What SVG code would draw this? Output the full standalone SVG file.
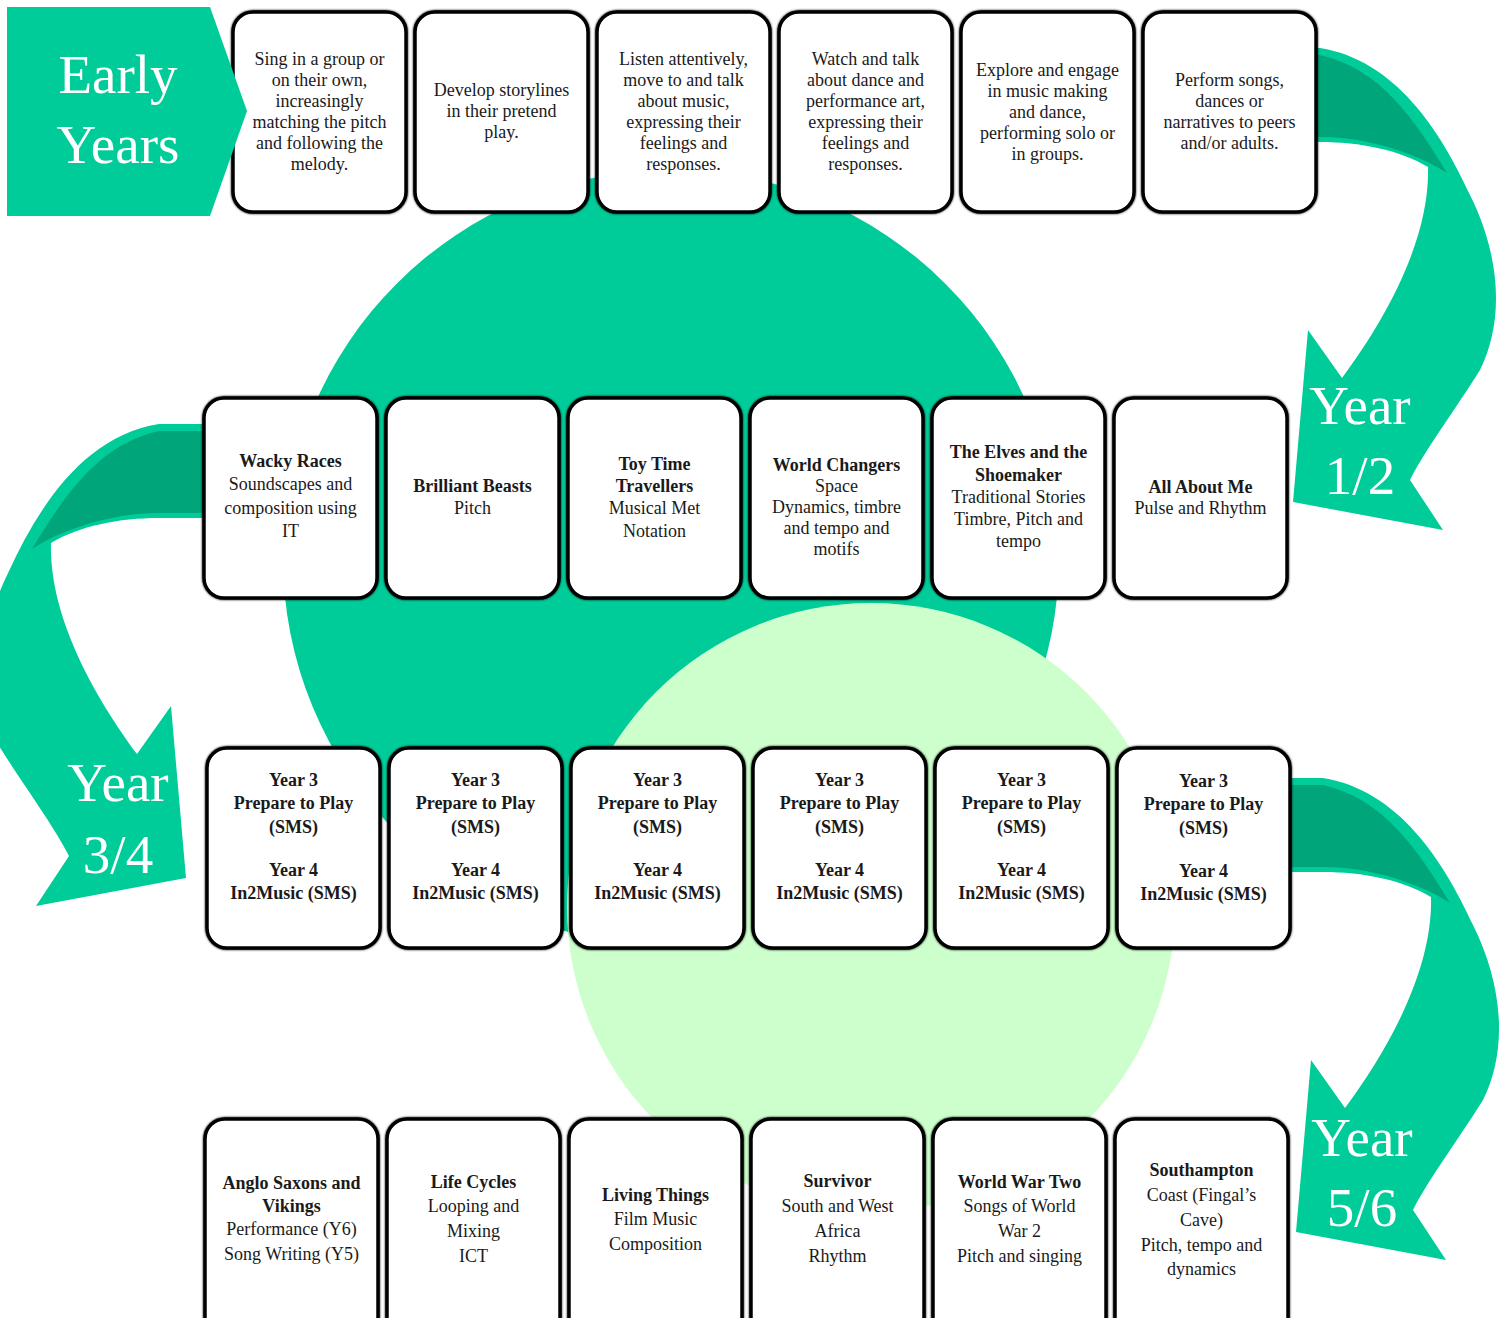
<svg xmlns="http://www.w3.org/2000/svg" xmlns:xlink="http://www.w3.org/1999/xlink" width="1499" height="1318" viewBox="0 0 1499 1318">
<defs>
<style>
.box{fill:#fff;stroke:#000;stroke-width:3.5}
.t{font-family:'Liberation Serif','DejaVu Serif',serif;font-size:18px;fill:#1a1a1a;text-anchor:middle}
.b{font-weight:bold}
.big{font-family:'Liberation Serif','DejaVu Serif',serif;font-size:55px;fill:#fff;text-anchor:middle}
.teal{fill:#00CC99}
.dark{fill:#00A67A}
</style>
<filter id="soft" x="-5%" y="-5%" width="110%" height="110%">
<feGaussianBlur in="SourceGraphic" stdDeviation="1.3" result="b"/>
<feMerge><feMergeNode in="b"/><feMergeNode in="SourceGraphic"/></feMerge>
</filter>
<g id="arrowShape">
<path class="teal" d="M1240,48 L1320,48 C1395,60 1440,130 1470,195 C1500,255 1505,320 1480,370 C1455,410 1425,450 1410,480 L1443,530 L1293,502 L1308,330 L1342,378 C1385,320 1430,240 1428,167 C1400,150 1360,142 1320,142 L1240,142 Z"/>
<path class="dark" d="M1240,55 L1320,55 C1380,68 1415,120 1447,173 C1420,155 1370,137 1320,137 L1240,137 Z"/>
</g>
</defs>

<g id="background">
<circle cx="671" cy="558" r="388" fill="#00CC99"/>
<circle cx="871" cy="907" r="304" fill="#CCFFCC"/>
</g>

<g id="connectors">
<g id="arrow-y12"><use xlink:href="#arrowShape"/></g>
<g id="arrow-y34"><use xlink:href="#arrowShape" transform="matrix(-1 0 0 1 1479 376)"/></g>
<g id="arrow-y56"><use xlink:href="#arrowShape" transform="translate(3 730)"/></g>
</g>

<g id="labels" font-family="Liberation Serif, DejaVu Serif, serif">
<text class="big" x="1360" y="424">Year</text>
<text class="big" x="1360" y="494">1/2</text>
<text class="big" x="118" y="801">Year</text>
<text class="big" x="118" y="873">3/4</text>
<text class="big" x="1362" y="1156">Year</text>
<text class="big" x="1362" y="1226">5/6</text>
</g>

<g id="nodes" font-family="Liberation Serif, DejaVu Serif, serif">
<!-- Row 1 -->
<g id="ey1"><rect class="box" filter="url(#soft)" x="233" y="12" width="173" height="200" rx="20"/>
<text class="t"><tspan x="319.5" y="65">Sing in a group or</tspan><tspan x="319.5" y="86">on their own,</tspan><tspan x="319.5" y="107">increasingly</tspan><tspan x="319.5" y="128">matching the pitch</tspan><tspan x="319.5" y="149">and following the</tspan><tspan x="319.5" y="170">melody.</tspan></text></g>
<g id="ey2"><rect class="box" filter="url(#soft)" x="415" y="12" width="173" height="200" rx="20"/>
<text class="t"><tspan x="501.5" y="96">Develop storylines</tspan><tspan x="501.5" y="117">in their pretend</tspan><tspan x="501.5" y="138">play.</tspan></text></g>
<g id="ey3"><rect class="box" filter="url(#soft)" x="597" y="12" width="173" height="200" rx="20"/>
<text class="t"><tspan x="683.5" y="65">Listen attentively,</tspan><tspan x="683.5" y="86">move to and talk</tspan><tspan x="683.5" y="107">about music,</tspan><tspan x="683.5" y="128">expressing their</tspan><tspan x="683.5" y="149">feelings and</tspan><tspan x="683.5" y="170">responses.</tspan></text></g>
<g id="ey4"><rect class="box" filter="url(#soft)" x="779" y="12" width="173" height="200" rx="20"/>
<text class="t"><tspan x="865.5" y="65">Watch and talk</tspan><tspan x="865.5" y="86">about dance and</tspan><tspan x="865.5" y="107">performance art,</tspan><tspan x="865.5" y="128">expressing their</tspan><tspan x="865.5" y="149">feelings and</tspan><tspan x="865.5" y="170">responses.</tspan></text></g>
<g id="ey5"><rect class="box" filter="url(#soft)" x="961" y="12" width="173" height="200" rx="20"/>
<text class="t"><tspan x="1047.5" y="76">Explore and engage</tspan><tspan x="1047.5" y="97">in music making</tspan><tspan x="1047.5" y="118">and dance,</tspan><tspan x="1047.5" y="139">performing solo or</tspan><tspan x="1047.5" y="160">in groups.</tspan></text></g>
<g id="ey6"><rect class="box" filter="url(#soft)" x="1143" y="12" width="173" height="200" rx="20"/>
<text class="t"><tspan x="1229.5" y="86">Perform songs,</tspan><tspan x="1229.5" y="107">dances or</tspan><tspan x="1229.5" y="128">narratives to peers</tspan><tspan x="1229.5" y="149">and/or adults.</tspan></text></g>

<!-- Row 2 -->
<g id="y12a"><rect class="box" filter="url(#soft)" x="204" y="398" width="173" height="200" rx="20"/>
<text class="t"><tspan class="b" x="290.5" y="467">Wacky Races</tspan><tspan x="290.5" y="490">Soundscapes and</tspan><tspan x="290.5" y="514">composition using</tspan><tspan x="290.5" y="537">IT</tspan></text></g>
<g id="y12b"><rect class="box" filter="url(#soft)" x="386" y="398" width="173" height="200" rx="20"/>
<text class="t"><tspan class="b" x="472.5" y="492">Brilliant Beasts</tspan><tspan x="472.5" y="514">Pitch</tspan></text></g>
<g id="y12c"><rect class="box" filter="url(#soft)" x="568" y="398" width="173" height="200" rx="20"/>
<text class="t"><tspan class="b" x="654.5" y="470">Toy Time</tspan><tspan class="b" x="654.5" y="492">Travellers</tspan><tspan x="654.5" y="514">Musical Met</tspan><tspan x="654.5" y="537">Notation</tspan></text></g>
<g id="y12d"><rect class="box" filter="url(#soft)" x="750" y="398" width="173" height="200" rx="20"/>
<text class="t"><tspan class="b" x="836.5" y="471">World Changers</tspan><tspan x="836.5" y="492">Space</tspan><tspan x="836.5" y="513">Dynamics, timbre</tspan><tspan x="836.5" y="534">and tempo and</tspan><tspan x="836.5" y="555">motifs</tspan></text></g>
<g id="y12e"><rect class="box" filter="url(#soft)" x="932" y="398" width="173" height="200" rx="20"/>
<text class="t"><tspan class="b" x="1018.5" y="458">The Elves and the</tspan><tspan class="b" x="1018.5" y="481">Shoemaker</tspan><tspan x="1018.5" y="503">Traditional Stories</tspan><tspan x="1018.5" y="525">Timbre, Pitch and</tspan><tspan x="1018.5" y="547">tempo</tspan></text></g>
<g id="y12f"><rect class="box" filter="url(#soft)" x="1114" y="398" width="173" height="200" rx="20"/>
<text class="t"><tspan class="b" x="1200.5" y="493">All About Me</tspan><tspan x="1200.5" y="514">Pulse and Rhythm</tspan></text></g>

<!-- Row 3 -->
<g id="y34a"><rect class="box" filter="url(#soft)" x="207" y="748" width="173" height="200" rx="20"/>
<text class="t b"><tspan x="293.5" y="786">Year 3</tspan><tspan x="293.5" y="809">Prepare to Play</tspan><tspan x="293.5" y="833">(SMS)</tspan><tspan x="293.5" y="876">Year 4</tspan><tspan x="293.5" y="899">In2Music (SMS)</tspan></text></g>
<g id="y34b"><rect class="box" filter="url(#soft)" x="389" y="748" width="173" height="200" rx="20"/>
<text class="t b"><tspan x="475.5" y="786">Year 3</tspan><tspan x="475.5" y="809">Prepare to Play</tspan><tspan x="475.5" y="833">(SMS)</tspan><tspan x="475.5" y="876">Year 4</tspan><tspan x="475.5" y="899">In2Music (SMS)</tspan></text></g>
<g id="y34c"><rect class="box" filter="url(#soft)" x="571" y="748" width="173" height="200" rx="20"/>
<text class="t b"><tspan x="657.5" y="786">Year 3</tspan><tspan x="657.5" y="809">Prepare to Play</tspan><tspan x="657.5" y="833">(SMS)</tspan><tspan x="657.5" y="876">Year 4</tspan><tspan x="657.5" y="899">In2Music (SMS)</tspan></text></g>
<g id="y34d"><rect class="box" filter="url(#soft)" x="753" y="748" width="173" height="200" rx="20"/>
<text class="t b"><tspan x="839.5" y="786">Year 3</tspan><tspan x="839.5" y="809">Prepare to Play</tspan><tspan x="839.5" y="833">(SMS)</tspan><tspan x="839.5" y="876">Year 4</tspan><tspan x="839.5" y="899">In2Music (SMS)</tspan></text></g>
<g id="y34e"><rect class="box" filter="url(#soft)" x="935" y="748" width="173" height="200" rx="20"/>
<text class="t b"><tspan x="1021.5" y="786">Year 3</tspan><tspan x="1021.5" y="809">Prepare to Play</tspan><tspan x="1021.5" y="833">(SMS)</tspan><tspan x="1021.5" y="876">Year 4</tspan><tspan x="1021.5" y="899">In2Music (SMS)</tspan></text></g>
<g id="y34f"><rect class="box" filter="url(#soft)" x="1117" y="748" width="173" height="200" rx="20"/>
<text class="t b"><tspan x="1203.5" y="787">Year 3</tspan><tspan x="1203.5" y="810">Prepare to Play</tspan><tspan x="1203.5" y="834">(SMS)</tspan><tspan x="1203.5" y="877">Year 4</tspan><tspan x="1203.5" y="900">In2Music (SMS)</tspan></text></g>

<!-- Row 4 -->
<g id="y56a"><rect class="box" filter="url(#soft)" x="205" y="1119" width="173" height="230" rx="20"/>
<text class="t"><tspan class="b" x="291.5" y="1189">Anglo Saxons and</tspan><tspan class="b" x="291.5" y="1212">Vikings</tspan><tspan x="291.5" y="1235">Performance (Y6)</tspan><tspan x="291.5" y="1260">Song Writing (Y5)</tspan></text></g>
<g id="y56b"><rect class="box" filter="url(#soft)" x="387" y="1119" width="173" height="230" rx="20"/>
<text class="t"><tspan class="b" x="473.5" y="1188">Life Cycles</tspan><tspan x="473.5" y="1212">Looping and</tspan><tspan x="473.5" y="1237">Mixing</tspan><tspan x="473.5" y="1262">ICT</tspan></text></g>
<g id="y56c"><rect class="box" filter="url(#soft)" x="569" y="1119" width="173" height="230" rx="20"/>
<text class="t"><tspan class="b" x="655.5" y="1201">Living Things</tspan><tspan x="655.5" y="1225">Film Music</tspan><tspan x="655.5" y="1250">Composition</tspan></text></g>
<g id="y56d"><rect class="box" filter="url(#soft)" x="751" y="1119" width="173" height="230" rx="20"/>
<text class="t"><tspan class="b" x="837.5" y="1187">Survivor</tspan><tspan x="837.5" y="1212">South and West</tspan><tspan x="837.5" y="1237">Africa</tspan><tspan x="837.5" y="1262">Rhythm</tspan></text></g>
<g id="y56e"><rect class="box" filter="url(#soft)" x="933" y="1119" width="173" height="230" rx="20"/>
<text class="t"><tspan class="b" x="1019.5" y="1188">World War Two</tspan><tspan x="1019.5" y="1212">Songs of World</tspan><tspan x="1019.5" y="1237">War 2</tspan><tspan x="1019.5" y="1262">Pitch and singing</tspan></text></g>
<g id="y56f"><rect class="box" filter="url(#soft)" x="1115" y="1119" width="173" height="230" rx="20"/>
<text class="t"><tspan class="b" x="1201.5" y="1176">Southampton</tspan><tspan x="1201.5" y="1201">Coast (Fingal’s</tspan><tspan x="1201.5" y="1226">Cave)</tspan><tspan x="1201.5" y="1251">Pitch, tempo and</tspan><tspan x="1201.5" y="1275">dynamics</tspan></text></g>
</g>

<g id="early-years">
<polygon class="teal" points="7,7 210,7 247,111 210,216 7,216"/>
<text class="big" x="118" y="93">Early</text>
<text class="big" x="118" y="163">Years</text>
</g>
</svg>
